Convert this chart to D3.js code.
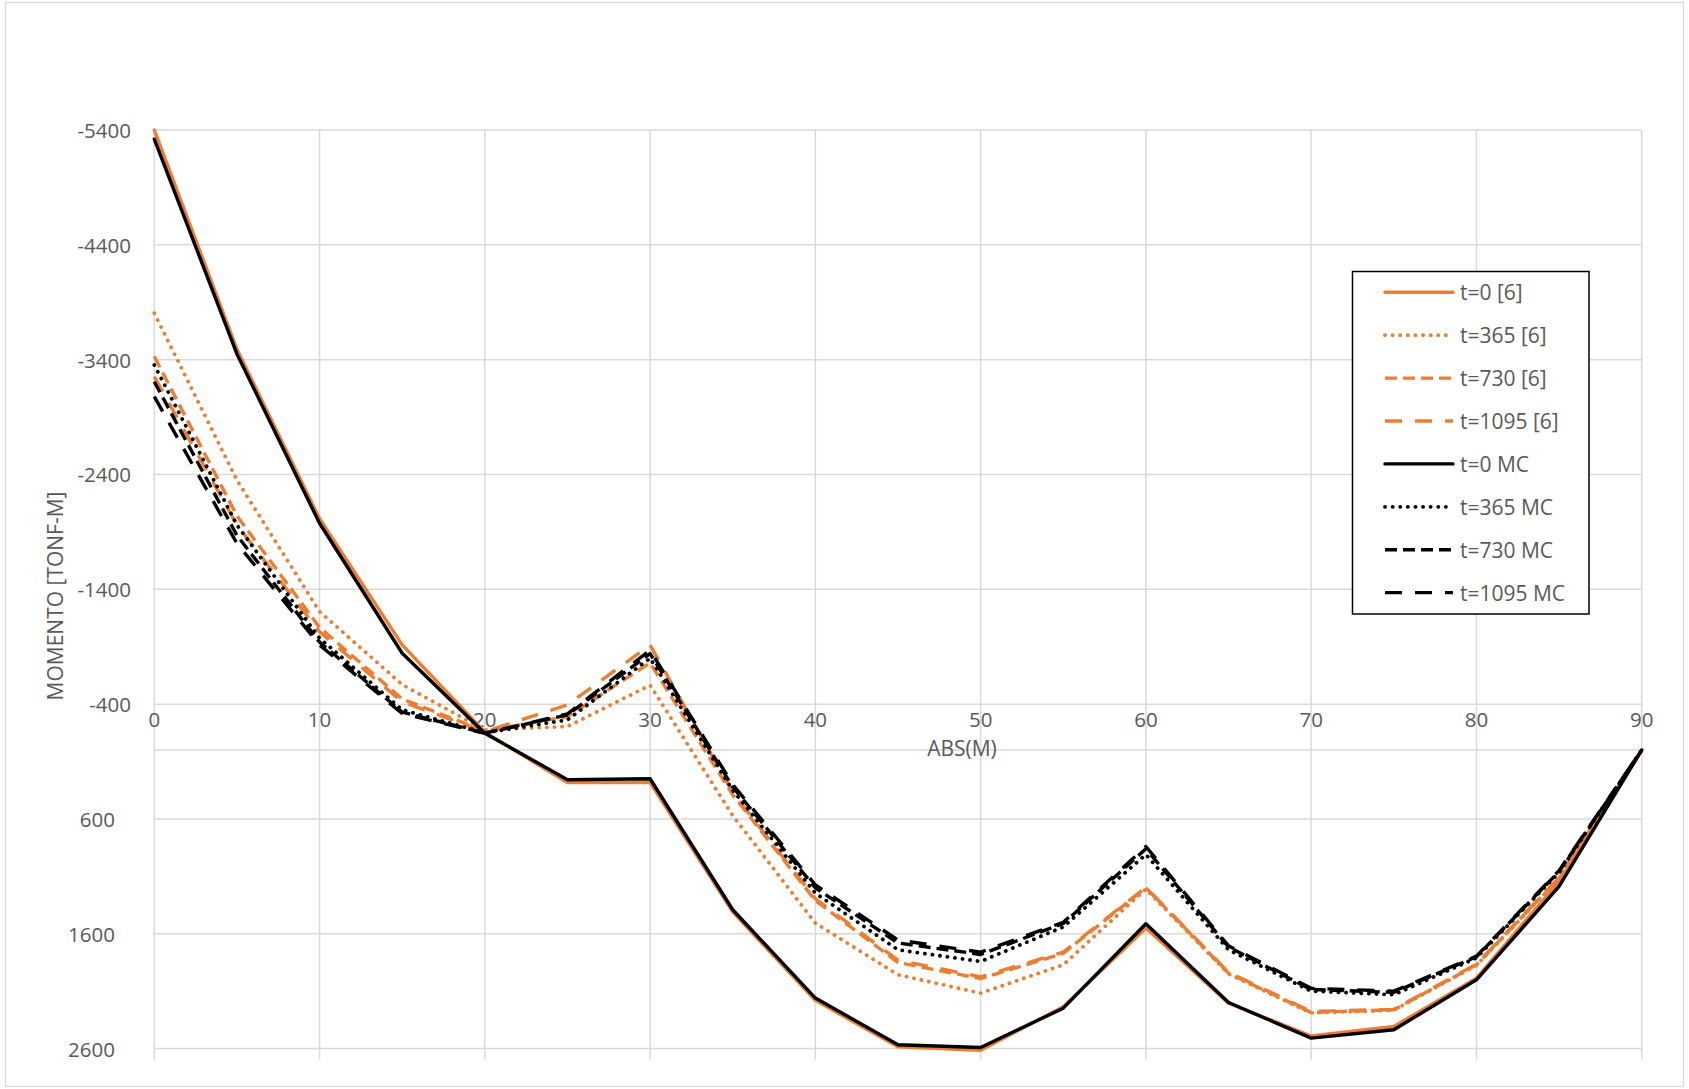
<!DOCTYPE html>
<html>
<head>
<meta charset="utf-8">
<script src="https://cdn.jsdelivr.net/npm/d3@7"></script>
<style>
  html, body { margin: 0; padding: 0; background: #fff; }
  svg { display: block; }
  text { font-family: "Open Sans", "Noto Sans", sans-serif; fill: #595959; }
</style>
</head>
<body>
<script>
// ---------- data ----------
const absM = [0, 5, 10, 15, 20, 25, 30, 35, 40, 45, 50, 55, 60, 65, 70, 75, 80, 85, 90];

const t0_6      = [-5400, -3490, -2015, -916, -155, 283, 283, 1410, 2180, 2585, 2615, 2235, 1550, 2205, 2490, 2407, 1987, 1145, 0];
const t365_6    = [-3804, -2350, -1206, -570, -175, -205, -565, 570, 1507, 1957, 2117, 1870, 1210, 1950, 2290, 2265, 1875, 1120, 0];
const t730_6    = [-3427, -2040, -1068, -445, -165, -292, -760, 390, 1310, 1850, 1990, 1770, 1200, 1943, 2285, 2262, 1870, 1115, 0];
const t1095_6   = [-3252, -1960, -1030, -420, -160, -394, -915, 370, 1295, 1830, 1975, 1760, 1195, 1935, 2277, 2258, 1865, 1110, 0];
const t0_MC     = [-5320, -3450, -1975, -843, -147, 258, 250, 1391, 2160, 2566, 2590, 2248, 1513, 2198, 2509, 2436, 2001, 1188, 0];
const t365_MC   = [-3354, -1960, -975, -350, -150, -263, -800, 350, 1246, 1740, 1841, 1540, 910, 1740, 2100, 2131, 1810, 1065, 0];
const t730_MC   = [-3208, -1870, -940, -330, -148, -306, -840, 320, 1200, 1680, 1780, 1510, 860, 1715, 2085, 2110, 1800, 1057, 0];
const t1095_MC  = [-3078, -1800, -915, -318, -145, -315, -870, 300, 1175, 1655, 1760, 1500, 840, 1705, 2075, 2100, 1795, 1050, 0];

const seriesNames = ["t=0 [6]", "t=365 [6]", "t=730 [6]", "t=1095 [6]", "t=0 MC", "t=365 MC", "t=730 MC", "t=1095 MC"];
const seriesValues = [t0_6, t365_6, t730_6, t1095_6, t0_MC, t365_MC, t730_MC, t1095_MC];

const xTicks = [0, 10, 20, 30, 40, 50, 60, 70, 80, 90];
const yTicks = [-5400, -4400, -3400, -2400, -1400, -400, 600, 1600, 2600];

const xTitle = "ABS(M)";
const yTitle = "MOMENTO [TONF-M]";

// ---------- styles ----------
const ORANGE = "#ED7D31";
const styles = [
  { color: ORANGE, dash: null, cap: "round" },
  { color: ORANGE, dash: "0.1,7.5", cap: "round" },
  { color: ORANGE, dash: "12,6", cap: "butt" },
  { color: ORANGE, dash: "17,13", cap: "butt" },
  { color: "#000", dash: null, cap: "round" },
  { color: "#000", dash: "0.1,7.5", cap: "round" },
  { color: "#000", dash: "12,6", cap: "butt" },
  { color: "#000", dash: "17,13", cap: "butt" }
];

const W = 1689, H = 1089;
const svg = d3.select("body").append("svg").attr("width", W).attr("height", H);

// chart border
svg.append("rect").attr("x", 5.5).attr("y", 2.5).attr("width", 1678).attr("height", 1084)
  .attr("fill", "#fff").attr("stroke", "#D9D9D9").attr("stroke-width", 1.3);

const x = d3.scaleLinear().domain([0, 90]).range([154.3, 1641.7]);
const y = d3.scaleLinear().domain([-5400, 2600]).range([130, 1048.6]);

const grid = svg.append("g");
grid.selectAll("line.h").data(yTicks).join("line")
  .attr("x1", x(0)).attr("x2", x(90))
  .attr("y1", d => y(d)).attr("y2", d => y(d))
  .attr("stroke", "#D9D9D9").attr("stroke-width", 1.5);
grid.selectAll("line.v").data(xTicks).join("line")
  .attr("x1", d => x(d)).attr("x2", d => x(d))
  .attr("y1", y(-5400)).attr("y2", y(2600) + 11)
  .attr("stroke", "#D9D9D9").attr("stroke-width", 1.5);
grid.append("line").attr("x1", x(0)).attr("x2", x(90)).attr("y1", y(0)).attr("y2", y(0))
  .attr("stroke", "#D9D9D9").attr("stroke-width", 1.5);

// y tick labels (plain hyphen-minus as in the reference)
svg.append("g").selectAll("text").data(yTicks).join("text")
  .attr("x", d => d < 0 ? 131 : 115)
  .attr("y", d => y(d))
  .attr("text-anchor", "end")
  .attr("dominant-baseline", "central")
  .style("font-size", "20.5px")
  .text(d => String(d));

// x tick labels
svg.append("g").selectAll("text").data(xTicks).join("text")
  .attr("x", d => x(d))
  .attr("y", 719)
  .attr("text-anchor", "middle")
  .attr("dominant-baseline", "central")
  .style("font-size", "20.5px")
  .text(d => String(d));

// axis titles
svg.append("text").attr("x", 962).attr("y", 748)
  .attr("text-anchor", "middle").attr("dominant-baseline", "central")
  .style("font-size", "21px").text(xTitle);
svg.append("text")
  .attr("transform", "translate(55,596) rotate(-90)")
  .attr("text-anchor", "middle").attr("dominant-baseline", "central")
  .style("font-size", "21px").text(yTitle);

// series
const line = d3.line().x((d, i) => x(absM[i])).y(d => y(d));
const plot = svg.append("g");
seriesValues.forEach((vals, k) => {
  const s = styles[k];
  plot.append("path").datum(vals)
    .attr("d", line)
    .attr("fill", "none")
    .attr("stroke", s.color)
    .attr("stroke-width", s.dash && s.dash.startsWith("0.1") ? 3.8 : 3.4)
    .attr("stroke-linejoin", "round")
    .attr("stroke-linecap", s.cap)
    .attr("stroke-dasharray", s.dash);
});

// legend
const lg = svg.append("g");
lg.append("rect").attr("x", 1352.5).attr("y", 271.5).attr("width", 236.5).attr("height", 342.5)
  .attr("fill", "#fff").attr("stroke", "#000").attr("stroke-width", 1.5);
seriesNames.forEach((name, k) => {
  const s = styles[k];
  const yy = 292.3 + k * 42.9;
  lg.append("line").attr("x1", 1385).attr("x2", 1453).attr("y1", yy).attr("y2", yy)
    .attr("stroke", s.color)
    .attr("stroke-width", s.dash && s.dash.startsWith("0.1") ? 3.8 : 3.4)
    .attr("stroke-linecap", s.cap).attr("stroke-dasharray", s.dash);
  lg.append("text").attr("x", 1460).attr("y", yy)
    .attr("dominant-baseline", "central").style("font-size", "21px").text(name);
});
</script>
</body>
</html>
